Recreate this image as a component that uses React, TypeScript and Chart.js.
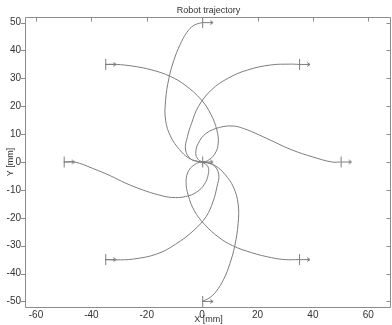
import React, { useEffect, useRef } from "react";
import { Chart, registerables } from "chart.js";

Chart.register(...registerables);

const chartTitle = "Robot trajectory";
const xTitle = "X [mm]";
const yTitle = "Y [mm]";
const xTicks = [-60, -40, -20, 0, 20, 40, 60];
const yTicks = [-50, -40, -30, -20, -10, 0, 10, 20, 30, 40, 50];

// start poses (marker "|" with heading arrow) and the goal pose at the origin
const poseX = [0, 35, 50, 35, 0, -35, -50, -35, 0];
const poseY = [50, 35, 0, -35, -50, -35, 0, 35, 0];

// trajectories, [x, y] in mm
const trajN = [[0, 50], [-3, 49], [-5.5, 46.5], [-8, 42], [-10.2, 36.5], [-12, 30], [-13.2, 22], [-13.2, 15], [-11.3, 9], [-8.2, 4.5], [-5, 1.5], [-2, 0.3], [0, 0]];
const trajS = [[0, -50], [2.5, -48.8], [5, -46.5], [7.8, -42], [10, -36.5], [11.8, -30], [13, -22], [13, -15], [11.3, -9], [8.3, -4.5], [5, -1.5], [2, -0.3], [0, 0]];
const trajW = [[-50, 0], [-46, 0], [-39.5, -2.3], [-33, -5], [-27.6, -7.6], [-21.5, -10], [-15.7, -11.8], [-11, -12.7], [-6, -12.4], [-2, -10.8], [0.8, -8], [2.2, -4.5], [2.1, -1.7], [0, 0]];
const trajE = [[50, 0], [46.8, 0], [40, 1.8], [32.5, 4.3], [26, 7.2], [20.6, 9.7], [15, 12], [11.1, 12.9], [6.3, 12.4], [1.5, 10.3], [-1.4, 6.7], [-2.3, 3.1], [-1.5, 1], [0, 0]];
const trajNW = [[-35, 35], [-31, 35], [-25.2, 34.4], [-18.1, 33], [-11.5, 30.7], [-6.2, 27.6], [-0.2, 22.2], [3.2, 17], [5.3, 11.5], [5.8, 6.5], [4.5, 2.8], [2, 0.5], [0, 0]];
const trajSE = [[35, -35], [30, -35], [25, -34.3], [17.8, -32.5], [11, -30], [6, -27], [0.8, -22.3], [-2.8, -17.5], [-5, -12], [-5.8, -7], [-4.8, -3], [-2, -0.5], [0, 0]];
const trajNE = [[35, 35], [31.9, 35.1], [24.8, 34.8], [16.4, 33], [9.3, 30], [3.3, 25.8], [-1.4, 19.8], [-3.8, 13.9], [-5.3, 9.1], [-6, 4.3], [-4, 1], [-1.5, 0.2], [0, 0]];
const trajSW = [[-35, -35], [-31.2, -35.1], [-24.8, -34.8], [-16.4, -33], [-9.6, -29.5], [-3, -24.5], [1.5, -19.5], [4, -14], [5.3, -9.1], [6, -4.3], [4, -1], [1.5, -0.2], [0, 0]];

const trajectories = [trajN, trajNE, trajE, trajSE, trajS, trajSW, trajW, trajNW];

const LINE = "#7d7d7d";
const AXIS = "#8c8c8c";
const TEXT = "#333333";
const FONT = "'Liberation Sans', Arial, sans-serif";

const framePlugin = {
  id: "frame",
  afterDraw(chart: any) {
    const { ctx, chartArea } = chart;
    const { left, right, top, bottom } = chartArea;
    const xs = chart.scales.x;
    const ys = chart.scales.y;
    const L = Math.round(left) - 0.5;
    const R = Math.round(right) - 0.5;
    const T = Math.round(top) + 0.5;
    const B = Math.round(bottom) + 0.5;
    ctx.save();
    ctx.strokeStyle = AXIS;
    ctx.lineWidth = 1;
    ctx.beginPath();
    ctx.moveTo(L, T); ctx.lineTo(R, T);
    ctx.moveTo(L, B); ctx.lineTo(R, B);
    ctx.moveTo(L, T); ctx.lineTo(L, B);
    ctx.moveTo(R, T); ctx.lineTo(R, B);
    for (const v of xTicks) {
      const px = Math.round(xs.getPixelForValue(v)) + 0.5;
      ctx.moveTo(px, T); ctx.lineTo(px, T + 4);
    }
    for (const v of yTicks) {
      const py = Math.round(ys.getPixelForValue(v)) + 0.5;
      ctx.moveTo(L - 4.5, py); ctx.lineTo(L, py);
      ctx.moveTo(R - 4, py); ctx.lineTo(R, py);
    }
    ctx.stroke();
    ctx.restore();
  },
};

function makeMarker(): HTMLCanvasElement {
  const c = document.createElement("canvas");
  c.width = 30;
  c.height = 13;
  const m = c.getContext("2d")!;
  m.strokeStyle = LINE;
  m.lineWidth = 1;
  m.beginPath();
  m.moveTo(15.5, 1); m.lineTo(15.5, 12);
  m.moveTo(15, 6.5); m.lineTo(26, 6.5);
  m.moveTo(26, 6.5); m.lineTo(23, 4.5);
  m.moveTo(26, 6.5); m.lineTo(23, 8.5);
  m.stroke();
  return c;
}

export default function App() {
  const ref = useRef<HTMLCanvasElement>(null);
  useEffect(() => {
    const canvas = ref.current!;
    const marker = makeMarker();
    const datasets: any[] = trajectories.map((t) => ({
      data: t.map(([x, y]) => ({ x, y })),
      showLine: true,
      borderColor: LINE,
      borderWidth: 1,
      pointRadius: 0,
      tension: 0.4,
      fill: false,
    }));
    datasets.push({
      data: poseX.map((x, i) => ({ x, y: poseY[i] })),
      showLine: false,
      pointStyle: marker,
      pointRadius: 5,
      borderWidth: 0,
    });
    const chart = new Chart(canvas, {
      type: "scatter",
      data: { datasets },
      plugins: [framePlugin],
      options: {
        animation: false,
        responsive: false,
        layout: { padding: { left: 0, right: 1, top: 0, bottom: 0 } },
        plugins: {
          legend: { display: false },
          tooltip: { enabled: false },
          title: {
            display: true,
            text: chartTitle,
            fullSize: false,
            color: TEXT,
            font: { family: FONT, size: 9, weight: "normal" },
            padding: { top: 5, bottom: 1.2 },
          },
        },
        scales: {
          x: {
            type: "linear",
            min: -63.6,
            max: 68.2,
            afterBuildTicks: (s: any) => { s.ticks = xTicks.map((value) => ({ value })); },
            afterFit: (s: any) => { s.height = 18; },
            grid: { display: false, drawTicks: false },
            border: { display: false },
            ticks: { color: TEXT, font: { family: FONT, size: 10 }, padding: 2, maxRotation: 0, autoSkip: false },
            title: { display: true, text: xTitle, color: TEXT, font: { family: FONT, size: 9 }, padding: { top: 0, bottom: 0 } },
          },
          y: {
            type: "linear",
            min: -52,
            max: 52,
            afterBuildTicks: (s: any) => { s.ticks = yTicks.map((value) => ({ value })); },
            afterFit: (s: any) => { s.width = 26; },
            grid: { display: false, drawTicks: false },
            border: { display: false },
            ticks: { color: TEXT, font: { family: FONT, size: 10 }, padding: 5, autoSkip: false },
            title: { display: true, text: yTitle, color: TEXT, font: { family: FONT, size: 9 }, padding: { top: 5, bottom: 0 } },
          },
        },
      } as any,
    });
    return () => chart.destroy();
  }, []);
  return (
    <div style={{ position: "fixed", left: 0, top: 0, width: 392, height: 325, overflow: "hidden", background: "#fff" }}>
      <canvas ref={ref} width={396} height={325} style={{ width: 396, height: 325, display: "block" }} />
    </div>
  );
}
